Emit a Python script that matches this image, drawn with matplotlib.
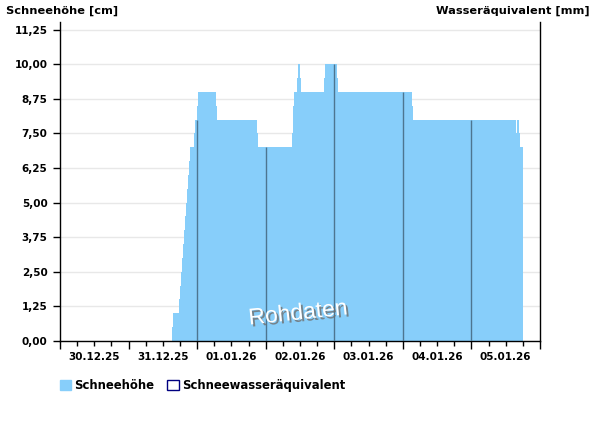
"""
Schneehöhe chart (Rohdaten) recreated with matplotlib
"""
from datetime import datetime, timedelta

import numpy as np
import matplotlib
matplotlib.use('Agg')
import matplotlib.pyplot as plt
import matplotlib.dates as mdates
import matplotlib.patheffects as pe
from matplotlib.patches import Patch
from matplotlib.ticker import FuncFormatter

plt.rcParams['font.family'] = ['DejaVu Sans']

START = datetime(2025, 12, 30)
END = datetime(2026, 1, 6)

# hours since 30.12.25 00:00 where the snow height changes, and the new value [cm]
change_hours = [39.2, 39.55, 41.65, 42.0, 42.35, 42.7, 43.05, 43.4, 43.75, 44.1,
                44.45, 44.8, 45.15, 45.5, 46.9, 47.25, 48.05, 48.35, 54.6, 54.95,
                68.95, 69.3, 81.2, 81.55, 81.9, 82.95, 83.3, 83.95, 84.3, 92.35,
                92.7, 96.9, 97.25, 123.1, 123.45, 159.6, 159.95, 160.65, 161.0]
snow_cm = [0.5, 1.0, 1.5, 2.0, 2.5, 3.0, 3.5, 4.0, 4.5, 5.0,
           5.5, 6.0, 6.5, 7.0, 7.5, 8.0, 8.5, 9.0, 8.5, 8.0,
           7.5, 7.0, 7.5, 8.5, 9.0, 9.5, 10.0, 9.5, 9.0, 9.5,
           10.0, 9.5, 9.0, 8.5, 8.0, 7.5, 8.0, 7.5, 7.0]
end_hour = 162.05

y_ticks = [0, 1.25, 2.5, 3.75, 5.0, 6.25, 7.5, 8.75, 10.0, 11.25]

times = [START + timedelta(hours=h) for h in change_hours + [end_hour]]
values = snow_cm + [snow_cm[-1]]

fig = plt.figure(figsize=(6, 4.26), dpi=100)
ax = fig.add_axes([0.1, 0.1995, 0.8, 0.7485])

ax.fill_between(times, 0, values, step='post', color='#87cefa',
                linewidth=0, zorder=2)

# dark day-separator lines up to the bar height
tnum = mdates.date2num(times)
for d in range(1, 7):
    day = START + timedelta(days=d)
    i = np.searchsorted(tnum, mdates.date2num(day), side='right') - 1
    if 0 <= i < len(snow_cm):
        ax.vlines(day, 0, snow_cm[i], color='#4d7590', linewidth=1, zorder=3)

ax.set_xlim(START, END)
ax.set_ylim(0, 11.52)
ax.set_yticks(y_ticks)
ax.yaxis.set_major_formatter(FuncFormatter(lambda v, p: f'{v:.2f}'.replace('.', ',')))
ax.yaxis.grid(True, color='#e8e8e8', linewidth=1, zorder=0)
ax.set_axisbelow(True)

ax.xaxis.set_major_locator(mdates.DayLocator())
ax.xaxis.set_major_formatter(FuncFormatter(lambda v, p: ''))
ax.xaxis.set_minor_locator(mdates.HourLocator(byhour=[6, 12, 18]))
ax.xaxis.set_minor_formatter(FuncFormatter(
    lambda v, p: mdates.num2date(v).strftime('%d.%m.%y') if mdates.num2date(v).hour == 12 else ''))

ax.tick_params(axis='x', which='major', length=5.5, width=1, color='black')
ax.tick_params(axis='x', which='minor', length=3.5, width=1, color='black', pad=4.5,
               labelsize=7.5)
ax.tick_params(axis='y', length=5, width=1, pad=4, labelsize=7.5)
for lab in ax.get_yticklabels() + ax.get_xticklabels(minor=True):
    lab.set_fontweight('bold')

for side in ('left', 'right', 'bottom'):
    ax.spines[side].set_color('black')
    ax.spines[side].set_linewidth(1)
ax.spines['top'].set_visible(False)

fig.text(6 / 600, 1 - 11 / 426, 'Schneehöhe [cm]', fontsize=8.2, fontweight='bold',
         ha='left', va='center')
fig.text(590 / 600, 1 - 11 / 426, 'Wasseräquivalent [mm]', fontsize=8.2,
         fontweight='bold', ha='right', va='center')

fig.text(298 / 600, 1 - 313 / 426, 'Rohdaten', fontsize=16.5, color='white',
         rotation=6, ha='center', va='center', family='Liberation Sans',
         path_effects=[pe.withSimplePatchShadow(offset=(1.5, -1.5),
                                                shadow_rgbFace='#707070', alpha=0.8)])

handles = [Patch(facecolor='#87cefa', edgecolor='#87cefa'),
           Patch(facecolor='white', edgecolor='#000080', linewidth=1)]
leg = fig.legend(handles, ['Schneehöhe', 'Schneewasseräquivalent'], ncol=2,
                 loc='upper left', bbox_to_anchor=(60 / 600, 1 - 379 / 426),
                 frameon=False, fontsize=8.4, handlelength=0.95, handleheight=0.95,
                 handletextpad=0.3, columnspacing=1.1, borderpad=0, borderaxespad=0)
for t in leg.get_texts():
    t.set_fontweight('bold')

plt.savefig('out.png', dpi=100)
plt.close(fig)
